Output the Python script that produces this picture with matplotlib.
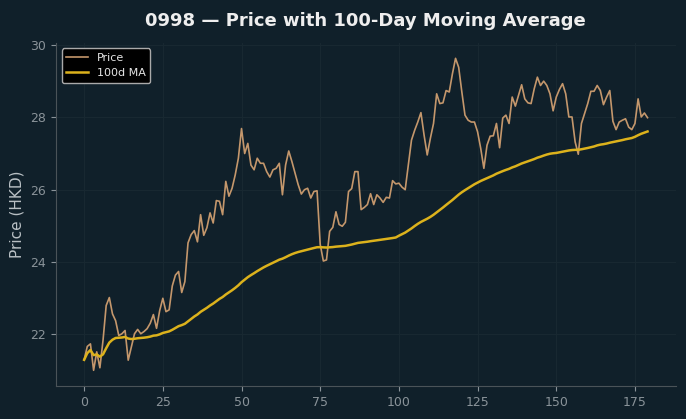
import matplotlib
matplotlib.use("Agg")
import matplotlib.pyplot as plt
import numpy as np
import pandas as pd

price = [
    21.30, 21.67, 21.74, 21.01, 21.52, 21.08, 21.84, 22.80, 23.02, 22.57,
    22.38, 21.97, 22.02, 22.11, 21.29, 21.65, 22.02, 22.14, 22.02, 22.08,
    22.16, 22.31, 22.55, 22.17, 22.66, 23.00, 22.63, 22.68, 23.34, 23.64,
    23.74, 23.16, 23.46, 24.53, 24.76, 24.87, 24.56, 25.31, 24.74, 24.95,
    25.36, 25.08, 25.70, 25.68, 25.31, 26.23, 25.82, 26.04, 26.41, 26.87,
    27.69, 27.00, 27.28, 26.68, 26.55, 26.87, 26.73, 26.73, 26.50, 26.35,
    26.55, 26.59, 26.73, 25.86, 26.68, 27.07, 26.78, 26.46, 26.14, 25.88,
    26.00, 26.04, 25.77, 25.95, 25.97, 24.49, 24.03, 24.06, 24.85, 24.96,
    25.39, 25.04, 24.99, 25.10, 25.95, 26.03, 26.50, 26.50, 25.45, 25.51,
    25.59, 25.89, 25.59, 25.86, 25.77, 25.65, 25.79, 25.77, 26.25, 26.16,
    26.18, 26.07, 26.00, 26.68, 27.37, 27.64, 27.87, 28.13, 27.51, 26.96,
    27.42, 27.83, 28.65, 28.38, 28.40, 28.74, 28.70, 29.20, 29.63, 29.38,
    28.70, 28.06, 27.92, 27.87, 27.87, 27.60, 27.14, 26.59, 27.23, 27.48,
    27.49, 27.83, 27.16, 27.98, 28.06, 27.83, 28.56, 28.31, 28.60, 28.90,
    28.51, 28.40, 28.38, 28.79, 29.11, 28.88, 29.00, 28.88, 28.65, 28.18,
    28.56, 28.77, 28.93, 28.65, 28.01, 28.01, 27.32, 26.98, 27.83, 28.10,
    28.38, 28.72, 28.72, 28.88, 28.74, 28.35, 28.56, 28.74, 27.89, 27.66,
    27.87, 27.92, 27.96, 27.73, 27.66, 27.83, 28.51, 28.01, 28.12, 27.99,
]
ma_window = 100
title = "0998 \u2014 Price with 100-Day Moving Average"
ylabel = "Price (HKD)"
xticks = [0, 25, 50, 75, 100, 125, 150, 175]
yticks = [22, 24, 26, 28, 30]

s = pd.Series(price)
ma = s.rolling(ma_window, min_periods=1).mean()
days = np.arange(len(price))

bg = "#10202a"
fig = plt.figure(figsize=(6.86, 4.19), dpi=100, facecolor=bg)
ax = fig.add_axes([0.0816, 0.079, 0.9034, 0.819])
ax.set_facecolor(bg)

ax.plot(days, s, color="#c4976c", lw=1.2, label="Price")
ax.plot(days, ma, color="#dcb21c", lw=1.8, label="100d MA")

ax.set_xticks(xticks)
ax.set_yticks(yticks)
ax.grid(True, color="#182831", lw=0.8)
ax.set_axisbelow(True)
for sp in ["top", "right"]:
    ax.spines[sp].set_visible(False)
for sp in ["left", "bottom"]:
    ax.spines[sp].set_color("#4a5358")
ax.tick_params(colors="#8a9399", labelsize=9, length=3.5)
ax.set_ylabel(ylabel, color="#b9c0c4", fontsize=11)
ax.set_title(title, color="#eeeeee", fontsize=13, fontweight="bold", pad=12)

leg = ax.legend(loc="upper left", fontsize=8, facecolor="#000000",
                edgecolor="#aaaaaa", framealpha=1.0)
for t in leg.get_texts():
    t.set_color("#e6e6e6")

fig.savefig("out.png", dpi=100, facecolor=bg)
